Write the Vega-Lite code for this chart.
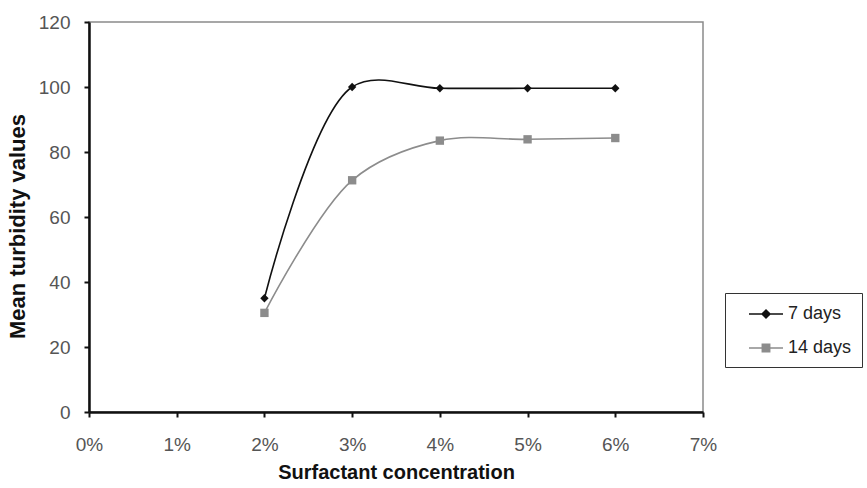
{
  "$schema": "https://vega.github.io/schema/vega-lite/v6.json",
  "width": 614,
  "height": 390,
  "autosize": {"type": "none"},
  "padding": {"left": 89, "top": 22, "right": 164, "bottom": 76},
  "background": "white",
  "config": {
    "font": "Liberation Sans",
    "view": {"stroke": "#8a8a8a", "strokeWidth": 1.5},
    "axis": {"grid": false, "domainColor": "#111", "domainWidth": 2.5, "tickColor": "#111", "tickWidth": 2, "tickSize": 5, "labelColor": "#555", "labelFontSize": 19, "titleFontWeight": "bold", "titleColor": "#111"}
  },
  "data": {
    "values": [
      {"conc": 2, "series": "7 days", "value": 35},
      {"conc": 3, "series": "7 days", "value": 100},
      {"conc": 4, "series": "7 days", "value": 99.6},
      {"conc": 5, "series": "7 days", "value": 99.6},
      {"conc": 6, "series": "7 days", "value": 99.6},
      {"conc": 2, "series": "14 days", "value": 30.5},
      {"conc": 3, "series": "14 days", "value": 71.3},
      {"conc": 4, "series": "14 days", "value": 83.5},
      {"conc": 5, "series": "14 days", "value": 83.9},
      {"conc": 6, "series": "14 days", "value": 84.3}
    ]
  },
  "encoding": {
    "x": {"field": "conc", "type": "quantitative", "scale": {"domain": [0, 7], "nice": false, "zero": false},
      "axis": {"values": [0,1,2,3,4,5,6,7], "labelExpr": "datum.value + '%'", "title": "Surfactant concentration", "titleFontSize": 20, "titlePadding": 8, "labelPadding": 18, "labelFlush": false}},
    "y": {"field": "value", "type": "quantitative", "scale": {"domain": [0, 120], "nice": false},
      "axis": {"values": [0,20,40,60,80,100,120], "title": "Mean turbidity values", "titleFontSize": 22, "titlePadding": 9, "titleY": 204, "labelPadding": 14}},
    "color": {"field": "series", "type": "nominal", "scale": {"domain": ["7 days", "14 days"], "range": ["#111111", "#8c8c8c"]},
      "legend": {"title": null, "orient": "none", "legendX": 636, "legendY": 271, "strokeColor": "#333", "padding": 10, "symbolOffset": 20, "labelFontSize": 18, "labelColor": "#222", "symbolSize": 400, "symbolType": "stroke", "rowPadding": 14, "labelOffset": 11,
        "encode": {"symbols": {"update": {"shape": {"signal": "datum.value === '7 days' ? 'M-1.7,0L1.7,0M0,-0.4L0.4,0L0,0.4L-0.4,0Z' : 'M-1.7,0L1.7,0M-0.37,-0.37L0.37,-0.37L0.37,0.37L-0.37,0.37Z'"}, "fill": {"signal": "datum.value === '7 days' ? '#111111' : '#8c8c8c'"}, "strokeWidth": {"value": 1.5}}}}}}
  },
  "layer": [
    {"mark": {"type": "line", "interpolate": "catmull-rom", "strokeWidth": 1.6}},
    {"transform": [{"filter": "datum.series === '7 days'"}],
      "mark": {"type": "point", "filled": true, "opacity": 1, "size": 70, "shape": "diamond"}},
    {"transform": [{"filter": "datum.series === '14 days'"}],
      "mark": {"type": "point", "filled": true, "opacity": 1, "size": 70, "shape": "square"}}
  ]
}
